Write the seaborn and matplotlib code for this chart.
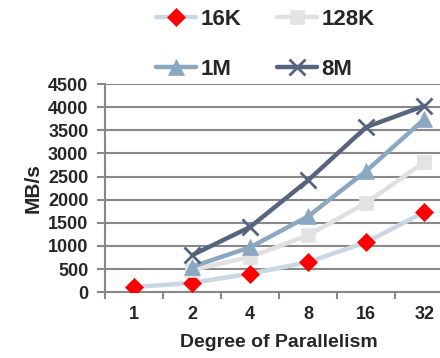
import matplotlib
matplotlib.use("Agg")
import matplotlib.pyplot as plt
import seaborn as sns
import pandas as pd
import numpy as np
from matplotlib.lines import Line2D

categories = ["1", "2", "4", "8", "16", "32"]
series_names = ["16K", "128K", "1M", "8M"]
v16k = [110, 200, 400, 650, 1080, 1730]
v128k = [None, 480, 760, 1230, 1930, 2810]
v1m = [None, 550, 970, 1640, 2620, 3740]
v8m = [None, 800, 1410, 2420, 3570, 4030]
yticks = [0, 500, 1000, 1500, 2000, 2500, 3000, 3500, 4000, 4500]

sns.set_theme(style="white")
plt.rcParams['font.family'] = ['Liberation Sans', 'DejaVu Sans']

rows = []
for name, vals in zip(series_names, [v16k, v128k, v1m, v8m]):
    for i, v in enumerate(vals):
        if v is not None:
            rows.append({"pos": i, "val": v, "series": name})
df = pd.DataFrame(rows)

styles = {
    "16K": dict(color="#c9d7e4", marker="D", mfc="#ff0000", mec="#ff0000", ms=9),
    "128K": dict(color="#e0e0e0", marker="s", mfc="#e3e3e3", mec="#e3e3e3", ms=10),
    "1M": dict(color="#8ba8c2", marker="^", mfc="#8ba8c2", mec="#8ba8c2", ms=11),
    "8M": dict(color="#566480", marker="x", mfc="#566480", mec="#566480", ms=11),
}

fig = plt.figure(figsize=(4.4, 3.58), dpi=100)
ax = fig.add_axes([0.239, 0.184, 0.791, 0.581])

for name in series_names:
    st = styles[name]
    sub = df[df.series == name]
    sns.lineplot(data=sub, x="pos", y="val", ax=ax, color=st["color"], linewidth=3.2,
                 marker=st["marker"], markersize=st["ms"], markerfacecolor=st["mfc"],
                 markeredgecolor=st["mec"], markeredgewidth=2 if name == "8M" else 0.5,
                 zorder=3, legend=False)

ax.set_xlim(-0.5, 5.5)
ax.set_ylim(0, 4500)
ax.set_yticks(yticks)
ax.set_yticklabels([str(t) for t in yticks], fontsize=13, fontweight="bold")
ax.set_xticks(range(len(categories)))
ax.set_xticklabels(categories, fontsize=13, fontweight="bold")
ax.set_xticks(np.arange(-0.5, 5.6, 1), minor=True)
ax.tick_params(axis="x", which="major", length=0, pad=10)
ax.tick_params(axis="x", which="minor", length=5, width=1.5, color="#888888", direction="out", bottom=True)
ax.tick_params(axis="y", length=6, width=1.5, color="#888888", direction="out", left=True, pad=6)
ax.yaxis.grid(True, color="#888888", linewidth=1.5)
ax.set_axisbelow(True)
for s in ["top", "right"]:
    ax.spines[s].set_visible(False)
for s in ["left", "bottom"]:
    ax.spines[s].set_color("#888888")
    ax.spines[s].set_linewidth(1.5)
ax.set_xlabel("Degree of Parallelism", fontsize=14, fontweight="bold", labelpad=8)
ax.set_ylabel("MB/s", fontsize=15, fontweight="bold", labelpad=4)

handles = []
for name in series_names:
    st = styles[name]
    handles.append(Line2D([], [], color=st["color"], linewidth=3.2, marker=st["marker"],
                          markersize=st["ms"], markerfacecolor=st["mfc"], markeredgecolor=st["mec"],
                          markeredgewidth=2 if name == "8M" else 0.5))
order = [0, 2, 1, 3]
fig.legend([handles[i] for i in order], [series_names[i] for i in order], ncol=2,
           loc="upper left", bbox_to_anchor=(0.31, 1.03), frameon=False,
           prop={"size": 16, "weight": "bold"}, handlelength=1.8, handletextpad=0.2,
           columnspacing=1.6, labelspacing=1.3)

fig.savefig("out.png", dpi=100)
